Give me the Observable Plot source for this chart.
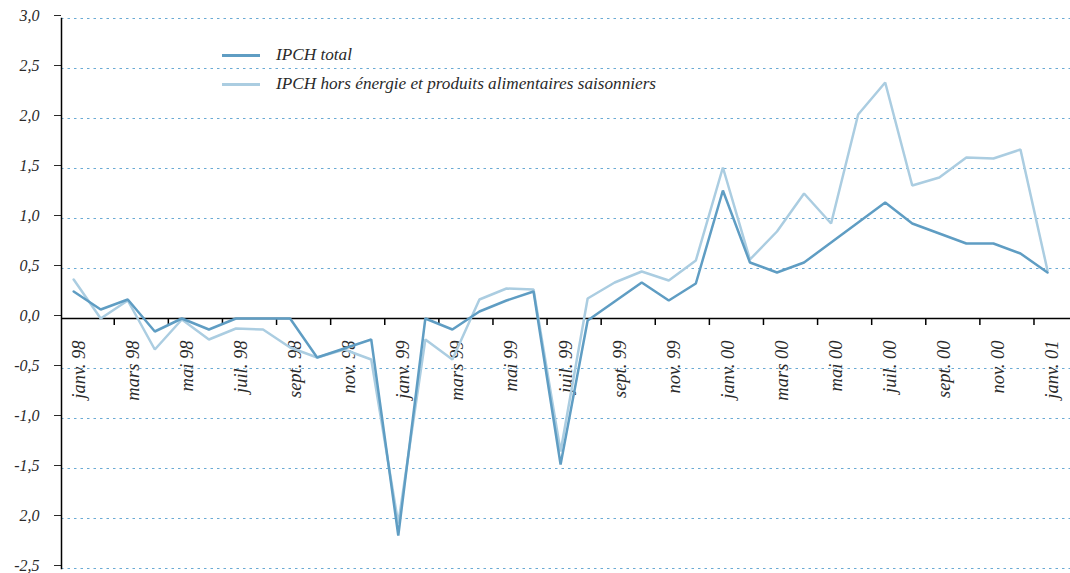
<!DOCTYPE html>
<html><head><meta charset="utf-8">
<script src="https://cdn.jsdelivr.net/npm/d3@7"></script>
<script src="https://cdn.jsdelivr.net/npm/@observablehq/plot@0.6"></script>
<style>
body{margin:0;background:#fff;}
#wrap{position:relative;width:1070px;height:573px;overflow:hidden;}
.leg{position:absolute;left:222px;height:20px;display:flex;align-items:center;font:italic 17.2px "Liberation Serif",serif;color:#2a2a2a;white-space:nowrap;}
.leg .sw{display:inline-block;width:38px;height:3px;margin-right:16px;}
</style></head>
<body><div id="wrap"></div>
<script>
const months = ["janv. 98","févr. 98","mars 98","avr. 98","mai 98","juin 98","juil. 98","août 98","sept. 98","oct. 98","nov. 98","déc. 98",
  "janv. 99","févr. 99","mars 99","avr. 99","mai 99","juin 99","juil. 99","août 99","sept. 99","oct. 99","nov. 99","déc. 99",
  "janv. 00","févr. 00","mars 00","avr. 00","mai 00","juin 00","juil. 00","août 00","sept. 00","oct. 00","nov. 00","déc. 00",
  "janv. 01"];
const ipchTotal = [0.27,0.09,0.19,-0.13,0.0,-0.11,0.0,0.0,0.0,-0.39,-0.30,-0.21,
  -2.17,0.0,-0.11,0.07,0.18,0.27,-1.46,-0.02,0.17,0.36,0.18,0.35,
  1.28,0.56,0.46,0.56,0.76,0.96,1.16,0.95,0.85,0.75,0.75,0.65,0.46];
const ipchCore = [0.39,0.0,0.18,-0.31,-0.01,-0.21,-0.10,-0.11,-0.29,-0.39,-0.31,-0.41,
  -2.05,-0.21,-0.41,0.19,0.30,0.29,-1.33,0.20,0.36,0.47,0.38,0.58,
  1.51,0.59,0.87,1.25,0.95,2.04,2.36,1.33,1.41,1.61,1.60,1.69,0.48];
const yTicks = [3,2.5,2,1.5,1,0.5,0,-0.5,-1,-1.5,-2,-2.5];
const yTickLabels = ["3,0","2,5","2,0","1,5","1,0","0,5","0,0","-0,5","-1,0","-1,5","2,0","-2,5"];
const seriesNames = ["IPCH total","IPCH hors énergie et produits alimentaires saisonniers"];
const colors = ["#5f9dc3","#abcde1"];

const data = months.map((m,i)=>({i, m, total: ipchTotal[i], core: ipchCore[i]}));
const labelData = data.filter(d => d.i % 2 === 0);
const boundaries = d3.range(1.5, 36, 2);

const chart = Plot.plot({
  width:1070, height:573, marginLeft:61, marginRight:0, marginTop:18, marginBottom:5,
  x:{domain:[-0.45,36.85], axis:null},
  y:{domain:[-2.5,3], axis:null},
  style:{fontFamily:"'Liberation Serif', serif", background:"white"},
  marks:[
    Plot.gridY(yTicks.filter(d=>d!==0), {stroke:"#6aaad4", strokeOpacity:1, strokeDasharray:"2.5,4"}),
    Plot.axisY({ticks:yTicks, tickFormat:d=>yTickLabels[yTicks.indexOf(d)], tickSize:7, tickPadding:15, color:"#2a2a2a", fontStyle:"italic", fontSize:16, dy:-3}),
    Plot.frame({anchor:"left", stroke:"black", strokeWidth:1.5}),
    Plot.ruleY([0], {stroke:"black", strokeWidth:1.5}),
    Plot.ruleX(boundaries, {y1:0, y2:-0.07, stroke:"black", strokeWidth:1.5}),
    Plot.text(labelData, {x:"i", y:0, text:"m", rotate:-90, textAnchor:"end", lineAnchor:"middle", dy:22, dx:5, fontStyle:"italic", fontSize:18.5, fill:"#2a2a2a"}),
    Plot.lineY(data, {x:"i", y:"core", stroke:colors[1], strokeWidth:2.5, strokeLinejoin:"miter"}),
    Plot.lineY(data, {x:"i", y:"total", stroke:colors[0], strokeWidth:2.5, strokeLinejoin:"miter"})
  ]
});
const wrap = document.getElementById("wrap");
wrap.appendChild(chart);
[45, 74].forEach((top, k) => {
  const d = document.createElement("div");
  d.className = "leg";
  d.style.top = top + "px";
  d.innerHTML = `<span class="sw" style="background:${colors[k]}"></span><span>${seriesNames[k]}</span>`;
  wrap.appendChild(d);
});
</script>
</body></html>
